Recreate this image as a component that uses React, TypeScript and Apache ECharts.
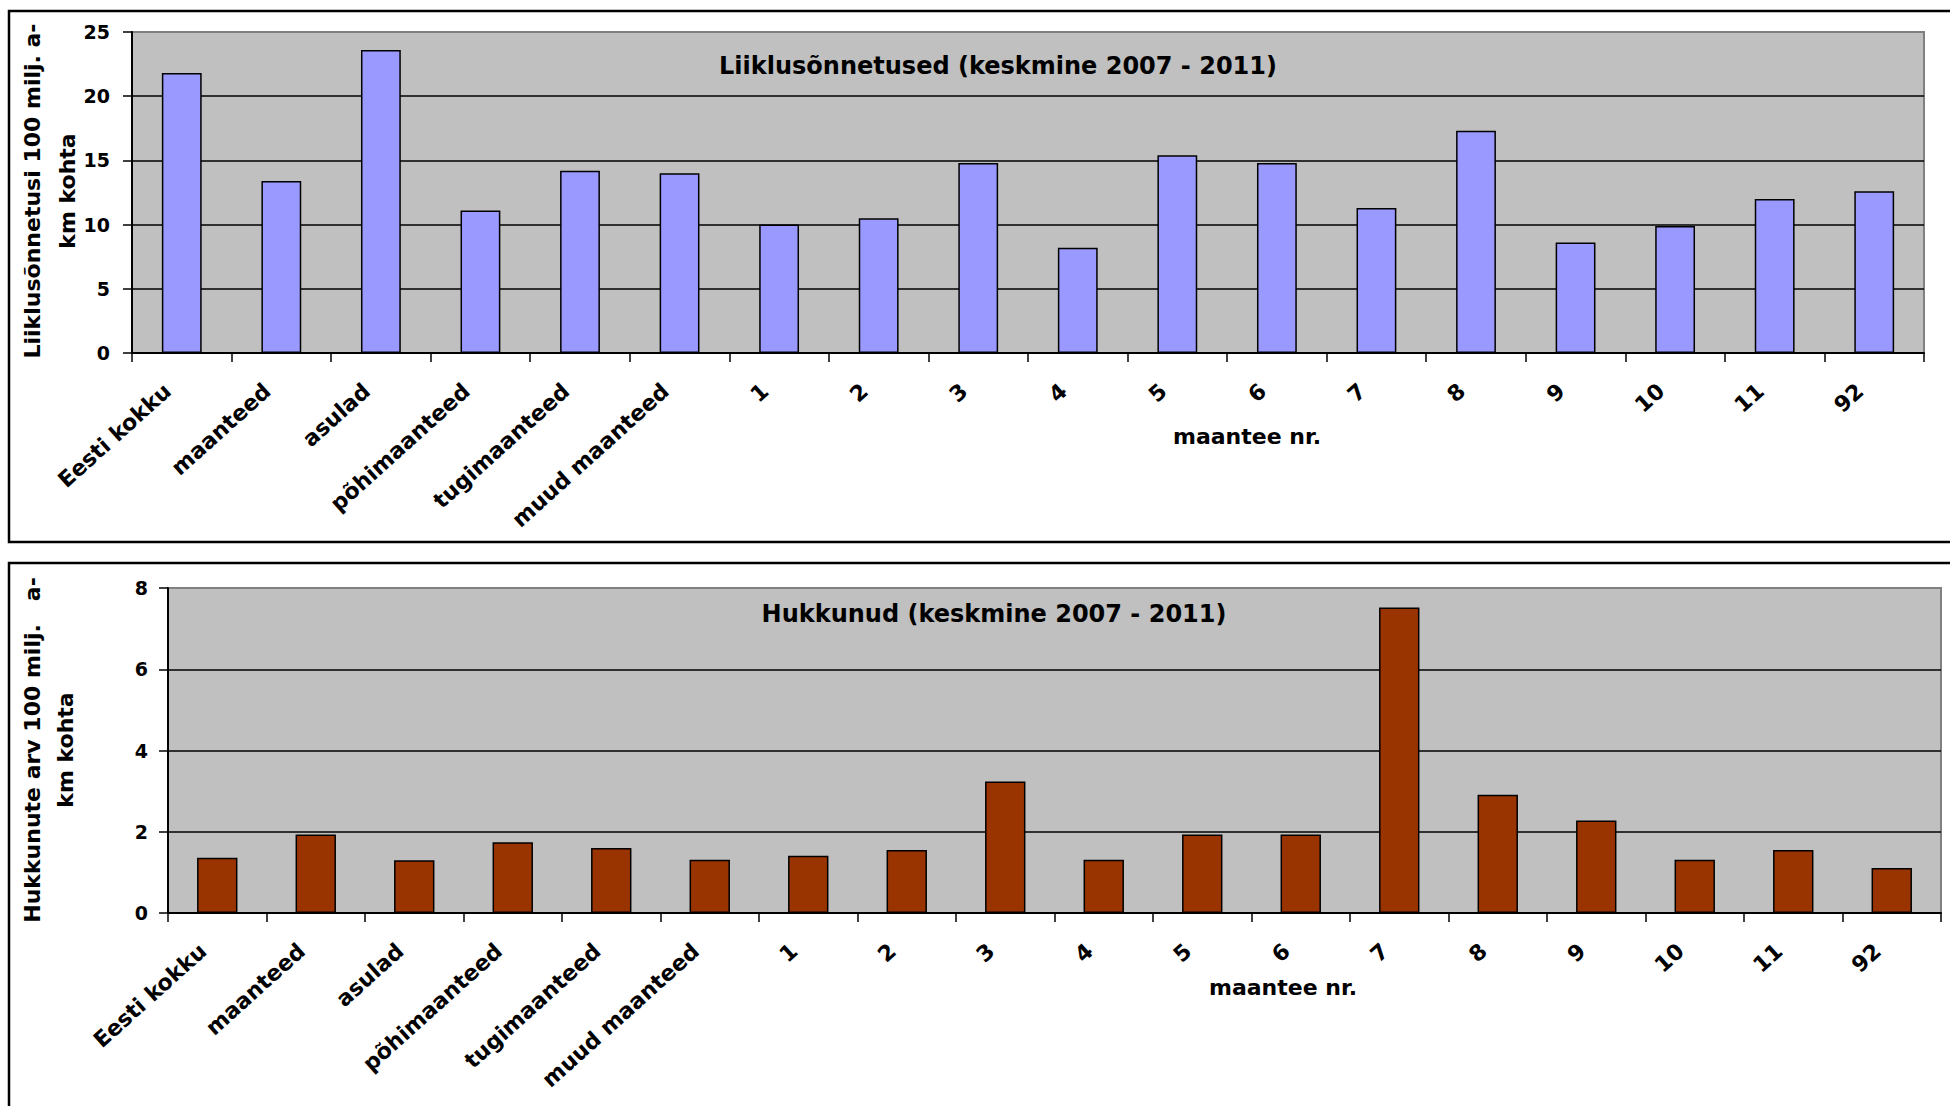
import React, { useEffect, useRef } from "react";
import * as echarts from "echarts";

const categories = [
  "Eesti kokku", "maanteed", "asulad", "põhimaanteed", "tugimaanteed", "muud maanteed",
  "1", "2", "3", "4", "5", "6", "7", "8", "9", "10", "11", "92",
];
const accidents = [21.8, 13.4, 23.6, 11.1, 14.2, 14.0, 10.0, 10.5, 14.8, 8.2, 15.4, 14.8, 11.3, 17.3, 8.6, 9.9, 12.0, 12.6];
const fatalities = [1.36, 1.93, 1.3, 1.74, 1.6, 1.31, 1.41, 1.55, 3.24, 1.31, 1.93, 1.93, 7.52, 2.91, 2.28, 1.31, 1.55, 1.11];

const topTitle = "Liiklusõnnetused (keskmine 2007 - 2011)";
const bottomTitle = "Hukkunud (keskmine 2007 - 2011)";
const topYName = "Liiklusõnnetusi 100 milj. a-\nkm kohta";
const bottomYName = "Hukkunute arv 100 milj.   a-\nkm kohta";
const xName = "maantee nr.";

const FONT = "DejaVu Sans";

function xAxis(gridIndex: number) {
  return {
    type: "category",
    gridIndex,
    data: categories,
    axisLine: { show: true, lineStyle: { color: "#000", width: 2 } },
    axisTick: { show: true, length: 9, lineStyle: { color: "#000", width: 1.5 } },
    axisLabel: {
      interval: 0,
      rotate: 42,
      margin: 22,
      padding: [0, 19, 0, 0],
      color: "#000",
      fontFamily: FONT,
      fontWeight: "bold",
      fontSize: 22,
    },
    splitLine: { show: false },
  };
}

function yAxis(gridIndex: number, max: number, interval: number, margin: number) {
  return {
    type: "value",
    gridIndex,
    min: 0,
    max,
    interval,
    axisLine: { show: true, lineStyle: { color: "#000", width: 2 } },
    axisTick: { show: true, length: 9, lineStyle: { color: "#000", width: 1.5 } },
    axisLabel: { margin, color: "#000", fontFamily: FONT, fontWeight: "bold", fontSize: 19 },
    splitLine: {
      show: true,
      showMinLine: false,
      showMaxLine: false,
      lineStyle: { color: "#000", width: 1.6 },
    },
  };
}

function txt(x: number, y: number, text: string, size: number, rotation = 0, lineHeight?: number) {
  return {
    type: "text",
    x,
    y,
    rotation,
    z: 10,
    style: {
      text,
      fill: "#000",
      fontFamily: FONT,
      fontWeight: "bold",
      fontSize: size,
      lineHeight: lineHeight ?? size * 1.2,
      align: "center",
      verticalAlign: "middle",
      textAlign: "center",
      textVerticalAlign: "middle",
    },
  };
}

export default function App() {
  const ref = useRef<HTMLDivElement>(null);
  useEffect(() => {
    if (!ref.current) return;
    const chart = echarts.init(ref.current, undefined, { renderer: "svg" });
    chart.setOption({
      animation: false,
      backgroundColor: "#fff",
      grid: [
        {
          left: 132, top: 32, width: 1792, height: 321,
          show: true, backgroundColor: "#c0c0c0", borderColor: "#808080", borderWidth: 2,
        },
        {
          left: 168, top: 588, width: 1773, height: 325,
          show: true, backgroundColor: "#c0c0c0", borderColor: "#808080", borderWidth: 2,
        },
      ],
      xAxis: [xAxis(0), xAxis(1)],
      yAxis: [yAxis(0, 25, 5, 22), yAxis(1, 8, 2, 20)],
      series: [
        {
          type: "bar",
          name: "Liiklusõnnetused",
          xAxisIndex: 0,
          yAxisIndex: 0,
          data: accidents,
          barWidth: "40%",
          itemStyle: { color: "#9999ff", borderColor: "#000", borderWidth: 1.5 },
        },
        {
          type: "bar",
          name: "Hukkunud",
          xAxisIndex: 1,
          yAxisIndex: 1,
          data: fatalities,
          barWidth: "41%",
          itemStyle: { color: "#993300", borderColor: "#000", borderWidth: 1.5 },
        },
      ],
      graphic: [
        {
          type: "rect",
          z: 0,
          shape: { x: 9, y: 11, width: 2000, height: 531 },
          style: { fill: "none", stroke: "#000", lineWidth: 2.5 },
        },
        {
          type: "rect",
          z: 0,
          shape: { x: 9, y: 563, width: 2000, height: 600 },
          style: { fill: "none", stroke: "#000", lineWidth: 2.5 },
        },
        txt(998, 66, topTitle, 24),
        txt(994, 614, bottomTitle, 24),
        txt(1247, 436, xName, 22),
        txt(1283, 987, xName, 22),
        txt(50, 191, topYName, 22, Math.PI / 2, 35),
        txt(49, 750, bottomYName, 22, Math.PI / 2, 33),
      ],
    });
    return () => chart.dispose();
  }, []);
  return (
    <div
      ref={ref}
      style={{ position: "absolute", left: 0, top: 0, width: 1950, height: 1106, overflow: "hidden" }}
    />
  );
}
